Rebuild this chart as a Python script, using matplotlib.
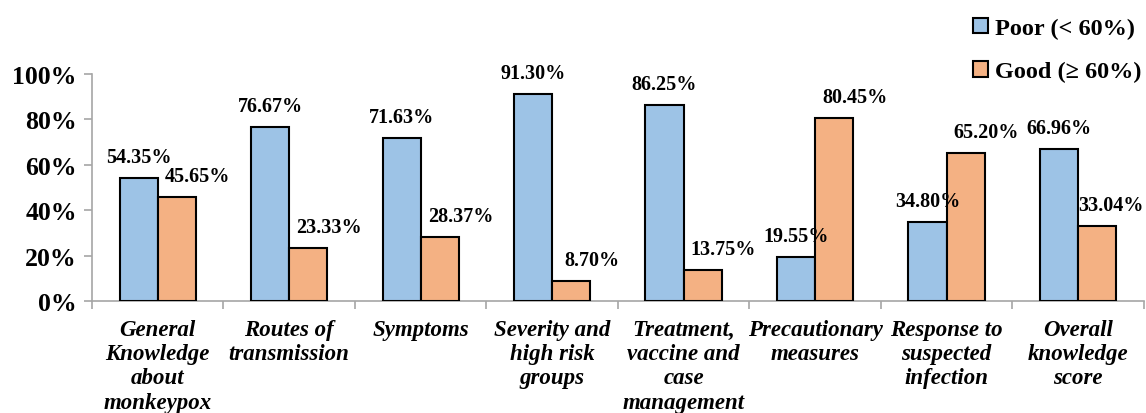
import matplotlib
matplotlib.use("Agg")
import matplotlib.pyplot as plt
import numpy as np

plt.rcParams['font.family'] = ['Liberation Serif', 'DejaVu Serif']
plt.rcParams['font.weight'] = 'bold'

categories = ["General\nKnowledge\nabout\nmonkeypox", "Routes of\ntransmission", "Symptoms",
              "Severity and\nhigh risk\ngroups", "Treatment,\nvaccine and\ncase\nmanagement",
              "Precautionary\nmeasures", "Response to\nsuspected\ninfection", "Overall\nknowledge\nscore"]
poor = [54.35, 76.67, 71.63, 91.30, 86.25, 19.55, 34.80, 66.96]
good = [45.65, 23.33, 28.37, 8.70, 13.75, 80.45, 65.20, 33.04]

fig = plt.figure(figsize=(11.46, 4.14), dpi=100)
ax = fig.add_axes([0.0803, 0.2705, 0.9177, 0.5483])

x = np.arange(len(categories))
w = 0.29
b1 = ax.bar(x - w/2, poor, w, color='#9DC3E6', edgecolor='black', linewidth=1.5, label='Poor (< 60%)', zorder=3)
b2 = ax.bar(x + w/2, good, w, color='#F4B183', edgecolor='black', linewidth=1.5, label='Good (≥ 60%)', zorder=3)

# value labels above the bars
for xi, v in zip(x, poor):
    ax.annotate(f"{v:.2f}%", (xi - w/2, v), xytext=(0, 8), textcoords='offset points',
                ha='center', va='bottom', fontsize=14.5, fontweight='bold')
for i, (xi, v) in enumerate(zip(x, good)):
    dx = 15 if i < len(good) - 1 else 10
    ax.annotate(f"{v:.2f}%", (xi + w/2, v), xytext=(dx, 8), textcoords='offset points',
                ha='center', va='bottom', fontsize=14.5, fontweight='bold')

ax.set_xlim(-0.5, len(categories) - 0.5)
ax.set_ylim(0, 100)
ax.set_yticks(range(0, 101, 20))
ax.set_yticklabels([f"{t}%" for t in range(0, 101, 20)], fontsize=18.5, fontweight='bold')

ax.set_xticks(x)
ax.set_xticklabels(categories, fontsize=16.5, fontweight='bold', style='italic', linespacing=1.2)
ax.tick_params(axis='x', length=0, pad=13)
ax.set_xticks(np.arange(-0.5, len(categories), 1), minor=True)
ax.tick_params(axis='x', which='minor', length=6, color='#A6A6A6', width=1.2)
ax.tick_params(axis='y', length=6, color='#A6A6A6', width=1.2, pad=5)

for s in ['top', 'right']:
    ax.spines[s].set_visible(False)
for s in ['left', 'bottom']:
    ax.spines[s].set_color('#A6A6A6')
    ax.spines[s].set_linewidth(1.2)

fig.legend(handles=[b1, b2], loc='upper right', bbox_to_anchor=(1.015, 1.007), frameon=False,
           prop={'size': 17.5, 'weight': 'bold'}, handlelength=0.6, handleheight=0.6,
           handletextpad=0.3, labelspacing=0.9)

fig.savefig("out.png", dpi=100)
